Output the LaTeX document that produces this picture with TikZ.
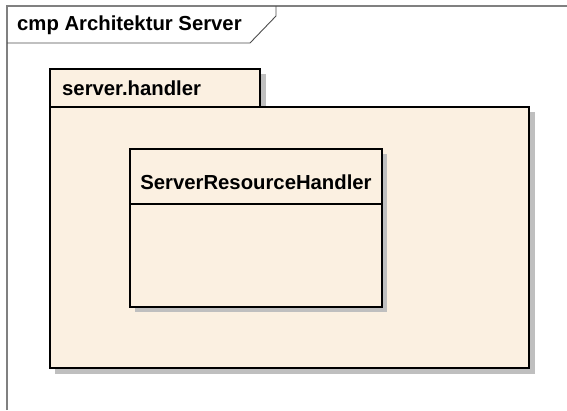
\documentclass[tikz,border=0pt]{standalone}
\usepackage{fontspec}
\setmainfont{Liberation Sans}
\begin{document}
\begin{tikzpicture}[x=1pt,y=-1pt,
  frameline/.style={draw=black!50,line width=1.5pt},
  pkgfill/.style={fill={rgb,255:red,251;green,240;blue,225}},
  boxline/.style={draw=black,line width=2pt},
  shadowfill/.style={fill=black!25},
  lbl/.style={font=\bfseries\fontsize{20.3}{24}\selectfont,inner sep=0pt}]
\useasboundingbox (0,0) rectangle (567,410);
% diagram frame with its title tab
\draw[frameline] (7,410) -- (7,6) -- (567,6);
\draw[draw=black!70,line width=0.9pt] (276,6) -- (276,16) -- (250,43) -- (7,43);
\node[lbl,anchor=west] (title) at (17,25) {cmp Architektur Server};
% package shadow
\fill[shadowfill] (55,112) rectangle (535,374);
\fill[shadowfill] (255,74) rectangle (266,107);
% package tab and body
\path[pkgfill,boxline] (50,69) rectangle (260,107);
\path[pkgfill,boxline] (50,107) rectangle (529,368);
\node[lbl,anchor=west] (pkg) at (62,88) {server.handler};
% class box
\fill[shadowfill] (135,154) rectangle (387,312);
\path[pkgfill,boxline] (130,149) rectangle (382,307);
\draw[boxline,line width=1.3pt] (130,204) -- (382,204);
\node[lbl] (cls) at (256,182) {ServerResourceHandler};
\end{tikzpicture}
\end{document}
